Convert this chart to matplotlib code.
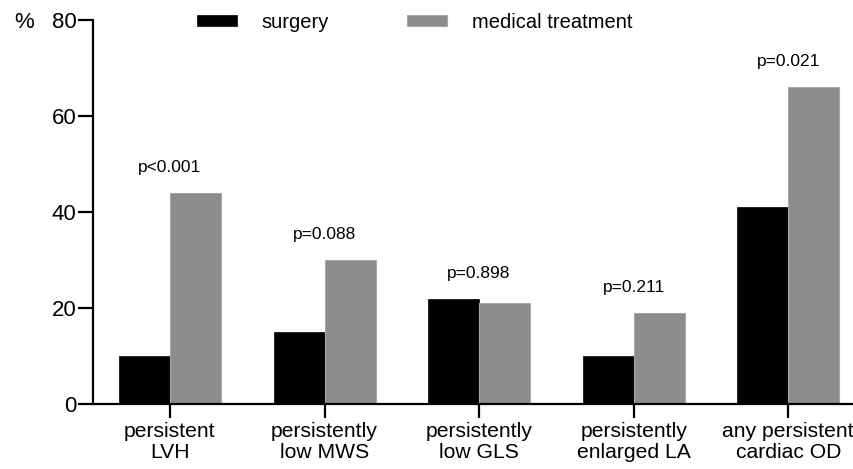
import matplotlib.pyplot as plt
import numpy as np

plt.rcParams['font.family'] = ['Liberation Sans', 'DejaVu Sans']

categories = ["persistent\nLVH", "persistently\nlow MWS", "persistently\nlow GLS",
              "persistently\nenlarged LA", "any persistent\ncardiac OD"]
surgery = [10, 15, 22, 10, 41]
medical = [44, 30, 21, 19, 66]
p_values = ["p<0.001", "p=0.088", "p=0.898", "p=0.211", "p=0.021"]

fig = plt.figure(figsize=(8.54, 4.69), dpi=100)
ax = fig.add_axes([0.1085, 0.138, 0.8905, 0.82])

x = np.arange(len(categories))
w = 0.33
ax.bar(x - w / 2, surgery, w, color="black", edgecolor="black", linewidth=0.5, label="surgery")
ax.bar(x + w / 2, medical, w, color="#8c8c8c", edgecolor="#a8a8a8", linewidth=0.8,
       label="medical treatment")

# p-value above each pair
for xi, s, m, p in zip(x, surgery, medical, p_values):
    ax.text(xi, max(s, m) + 5.3, p, ha="center", va="center", fontsize=12.5)

ax.set_xlim(-0.5, 4.42)
ax.set_ylim(0, 80)
ax.set_yticks([0, 20, 40, 60, 80])
ax.set_xticks(x)
ax.set_xticklabels(categories, fontsize=15.2, linespacing=1.1)
ax.tick_params(axis="y", labelsize=16, length=10.5, width=1.6, pad=1)
ax.tick_params(axis="x", length=10, width=1.6, pad=3)

for side in ["top", "right"]:
    ax.spines[side].set_visible(False)
for side in ["left", "bottom"]:
    ax.spines[side].set_linewidth(1.6)

fig.text(0.017, 0.951, "%", fontsize=16, ha="left", va="center")

ax.legend(loc="center left", bbox_to_anchor=(0.137, 0.9935), ncol=2, frameon=False,
          fontsize=14.5, handlelength=2.0, handleheight=0.45, handletextpad=1.2,
          columnspacing=3.9, borderpad=0, borderaxespad=0)

fig.savefig("out.png", dpi=100)
